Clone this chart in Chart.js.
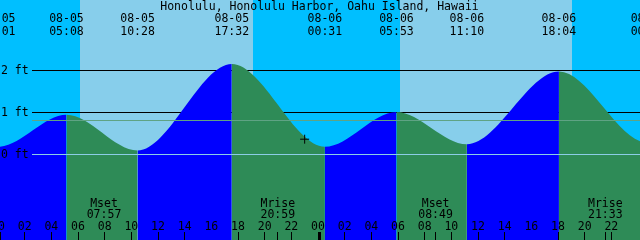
<!DOCTYPE html>
<html><head><meta charset="utf-8">
<script src="https://cdn.jsdelivr.net/npm/chart.js@4.4.1/dist/chart.umd.min.js"></script>
<style>html,body{margin:0;padding:0;background:#00BFFF;}canvas{display:block;}</style>
</head><body>
<canvas id="c" width="640" height="240"></canvas>
<script>
// ---------- data ----------
const title = 'Honolulu, Honolulu Harbor, Oahu Island, Hawaii';
const dayLabels = ['08-05', '08-06'];
const hourLabels = ['00','02','04','06','08','10','12','14','16','18','20','22'];
const hourTicksMissing = ['16'];

const tideDates   = ['08-04','08-04','08-05','08-05','08-05','08-05','08-06','08-06','08-06','08-06','08-07','08-07'];
const tideTimes   = ['10:40','17:10','00:01','05:08','10:28','17:32','00:31','05:53','11:10','18:04','00:45','06:40'];
const tideHeights = [0.22, 2.10, 0.18, 0.94, 0.09, 2.15, 0.18, 1.01, 0.24, 1.97, 0.27, 1.05];

const sunDates   = ['08-05','08-06'];
const sunriseTimes = ['06:07','06:07'];
const sunsetTimes  = ['19:06','19:05'];

const moonDates = ['08-05','08-05','08-06','08-06'];
const moonTimes = ['07:57','20:59','08:49','21:33'];
const moonKinds = ['Mset','Mrise','Mset','Mrise'];

const depthLines  = [1, 2];           // black lines behind the water
const depthLabels = ['0 ft','1 ft','2 ft'];
const depthLabelValues = [0, 1, 2];
const datumLevel = 0;
const meanLevel = 0.81;

const markerDates = ['08-05'];
const markerTimes = ['23:00'];
const markerHeights = [0.36];

// ---------- helpers ----------
const baseDay = parseInt(dayLabels[0].split('-')[1], 10);
function toHours(date, time) {
  const day = parseInt(date.split('-')[1], 10) - baseDay;
  const [hh, mm] = time.split(':').map(Number);
  return day * 24 + hh + mm / 60;
}
const NIGHT = '#00BFFF', DAY = '#87CEEB', FLOOD = '#0000FF', EBB = '#2E8B57';
const FONT = '11.5px "DejaVu Sans Mono", monospace';

const tidePoints = tideDates.map((d, i) => ({x: toHours(d, tideTimes[i]), y: tideHeights[i]}));
const markerPoints = markerDates.map((d, i) => ({x: toHours(d, markerTimes[i]), y: markerHeights[i]}));

const xMin = toHours('08-05', '00:09');
const xMax = xMin + 48;

const tidePlugin = {
  id: 'tideDecor',
  beforeDatasetsDraw(chart) {
    const {ctx, chartArea: a, scales: {x, y}} = chart;
    ctx.save();
    ctx.fillStyle = NIGHT;
    ctx.fillRect(0, 0, chart.width, chart.height);
    ctx.fillStyle = DAY;
    sunDates.forEach((d, i) => {
      const x0 = Math.round(x.getPixelForValue(toHours(d, sunriseTimes[i])));
      const x1 = Math.round(x.getPixelForValue(toHours(d, sunsetTimes[i])));
      ctx.fillRect(x0, 0, x1 - x0, chart.height);
    });
    ctx.fillStyle = '#000';
    depthLines.forEach(v => {
      const py = Math.round(y.getPixelForValue(v) - 0.5);
      ctx.fillRect(32, py, chart.width - 32, 1);
    });
    ctx.restore();
  },
  afterDatasetsDraw(chart) {
    const {ctx, chartArea: a, scales: {x, y}} = chart;
    ctx.save();
    // datum and mean lines over water
    ctx.fillStyle = '#8ccde6';
    ctx.fillRect(32, Math.round(y.getPixelForValue(datumLevel) - 0.5), chart.width - 32, 1);
    ctx.fillStyle = '#5fa384';
    ctx.fillRect(32, Math.round(y.getPixelForValue(meanLevel) - 0.5), chart.width - 32, 1);

    ctx.font = FONT;
    ctx.fillStyle = '#000';
    ctx.textBaseline = 'alphabetic';
    // depth labels
    ctx.textAlign = 'left';
    depthLabels.forEach((t, i) => {
      const py = Math.round(y.getPixelForValue(depthLabelValues[i]) - 0.5);
      ctx.fillText(t, 1, py + 4);
    });
    // title
    ctx.textAlign = 'center';
    ctx.fillText(title, 319.5, 10);
    // tide event labels
    tideDates.forEach((d, i) => {
      const px = x.getPixelForValue(toHours(d, tideTimes[i]));
      ctx.fillText(d, px, 22);
      ctx.fillText(tideTimes[i], px, 35);
    });
    // moon labels
    moonDates.forEach((d, i) => {
      const px = x.getPixelForValue(toHours(d, moonTimes[i]));
      ctx.fillText(moonKinds[i], px, 207);
      ctx.fillText(moonTimes[i], px, 218);
      ctx.fillRect(Math.round(px - 0.5), 232, 1, 8);
    });
    // hour labels and ticks
    dayLabels.forEach((d, di) => {
      hourLabels.forEach(h => {
        const px = x.getPixelForValue(toHours(d, h + ':00'));
        ctx.fillText(h, px, 230);
        if (h === '00') {
          ctx.fillRect(Math.round(px - 0.5), 232, 3, 8);
        } else if (!hourTicksMissing.includes(h)) {
          ctx.fillRect(Math.round(px - 0.5), 232, 1, 8);
        }
      });
    });
    ctx.restore();
  }
};

new Chart(document.getElementById('c'), {
  type: 'line',
  data: {
    datasets: [
      {
        data: markerPoints,
        showLine: false,
        pointStyle: 'cross',
        pointRadius: 4.5,
        pointBorderColor: '#000',
        pointBorderWidth: 1,
        fill: false
      },
      {
        data: tidePoints,
        borderWidth: 0,
        borderColor: 'rgba(0,0,0,0)',
        pointRadius: 0,
        cubicInterpolationMode: 'monotone',
        fill: 'start',
        backgroundColor: FLOOD,
        segment: {
          backgroundColor: c => (c.p1.parsed.y > c.p0.parsed.y ? FLOOD : EBB)
        }
      }
    ]
  },
  options: {
    responsive: false,
    devicePixelRatio: 1,
    animation: false,
    layout: {padding: 0, autoPadding: false},
    plugins: {legend: {display: false}, tooltip: {enabled: false}},
    scales: {
      x: {type: 'linear', min: xMin, max: xMax, display: false},
      y: {type: 'linear', min: -2.04, max: 3.674, display: false}
    }
  },
  plugins: [tidePlugin]
});
</script>
</body></html>
